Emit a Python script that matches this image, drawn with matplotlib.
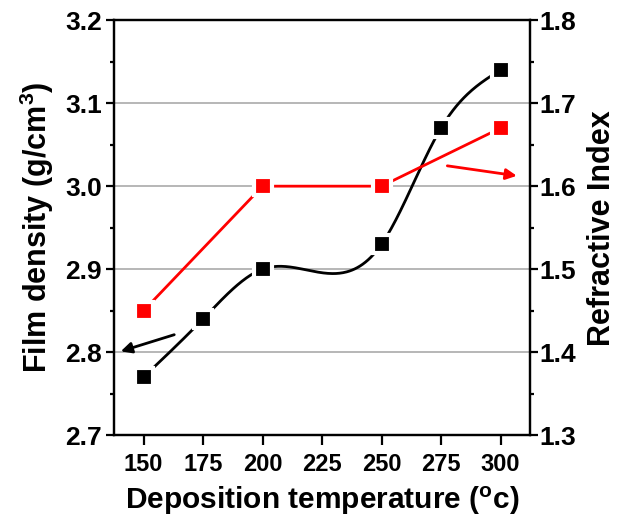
import numpy as np
import matplotlib
matplotlib.use('Agg')
import matplotlib.pyplot as plt
from matplotlib.ticker import MultipleLocator

plt.rcParams['font.family'] = ['Liberation Sans', 'DejaVu Sans']
plt.rcParams['font.weight'] = 'bold'
plt.rcParams['mathtext.default'] = 'regular'

temp_density = [150, 175, 200, 250, 275, 300]
density = [2.77, 2.84, 2.90, 2.93, 3.07, 3.14]
temp_index = [150, 200, 250, 300]
index = [1.45, 1.60, 1.60, 1.67]


def natural_spline(x, y, xs):
    # plain natural cubic spline, only used to draw the smooth line
    x = np.asarray(x, float)
    y = np.asarray(y, float)
    n = len(x)
    h = np.diff(x)
    A = np.zeros((n, n))
    b = np.zeros(n)
    A[0, 0] = A[-1, -1] = 1
    for i in range(1, n - 1):
        A[i, i - 1] = h[i - 1]
        A[i, i] = 2 * (h[i - 1] + h[i])
        A[i, i + 1] = h[i]
        b[i] = 3 * ((y[i + 1] - y[i]) / h[i] - (y[i] - y[i - 1]) / h[i - 1])
    c = np.linalg.solve(A, b)
    out = np.empty_like(xs)
    for k, t in enumerate(xs):
        i = min(max(np.searchsorted(x, t) - 1, 0), n - 2)
        bi = (y[i + 1] - y[i]) / h[i] - h[i] * (2 * c[i] + c[i + 1]) / 3
        di = (c[i + 1] - c[i]) / (3 * h[i])
        dx = t - x[i]
        out[k] = y[i] + bi * dx + c[i] * dx ** 2 + di * dx ** 3
    return out


fig = plt.figure(figsize=(6.29, 5.18), dpi=100)
ax = fig.add_axes([0.181, 0.16, 0.662, 0.801])
ax2 = ax.twinx()

xs = np.linspace(temp_density[0], temp_density[-1], 400)
ax.plot(xs, natural_spline(temp_density, density, xs), color='black', lw=2, zorder=3)
ax.plot(temp_density, density, 's', color='black', ms=13.5, mec='white', mew=3, zorder=4)

ax2.plot(temp_index, index, '-', color='red', lw=2, zorder=3)
ax2.plot(temp_index, index, 's', color='red', ms=13.5, mec='white', mew=3, zorder=4)

ax.set_xlim(137.5, 312.5)
ax.set_ylim(2.7, 3.2)
ax2.set_ylim(1.3, 1.8)
ax.set_xticks([150, 175, 200, 225, 250, 275, 300])
ax.yaxis.set_major_locator(MultipleLocator(0.1))
ax.yaxis.set_minor_locator(MultipleLocator(0.05))
ax2.yaxis.set_major_locator(MultipleLocator(0.1))
ax2.yaxis.set_minor_locator(MultipleLocator(0.05))
ax.grid(axis='y', color='#aaaaaa', lw=1.2)
ax.set_axisbelow(True)

for a in (ax, ax2):
    for s in a.spines.values():
        s.set_linewidth(1.6)
    a.tick_params(which='major', direction='out', length=5.5, width=1.6)
    a.tick_params(which='minor', direction='out', length=3, width=1.6)
ax.tick_params(axis='x', which='major', length=7, labelsize=17, pad=6)
ax.tick_params(axis='y', which='major', labelsize=19, pad=3)
ax2.tick_params(axis='y', which='major', labelsize=19, pad=1)

ax.set_xlabel('Deposition temperature ($^{o}$c)', fontsize=21.5, fontweight='bold', labelpad=6)
ax.set_ylabel('Film density (g/cm$^{3}$)', fontsize=22, fontweight='bold', labelpad=7)
ax2.set_ylabel('Refractive Index', fontsize=22, fontweight='bold', labelpad=8)

ax.annotate('', xy=(139.3, 2.80), xytext=(164, 2.822),
            arrowprops=dict(arrowstyle='-|>', color='black', lw=2, mutation_scale=16))
ax2.annotate('', xy=(308, 1.612), xytext=(276.5, 1.625),
             arrowprops=dict(arrowstyle='-|>', color='red', lw=2, mutation_scale=16))

fig.savefig('out.png', dpi=100)
